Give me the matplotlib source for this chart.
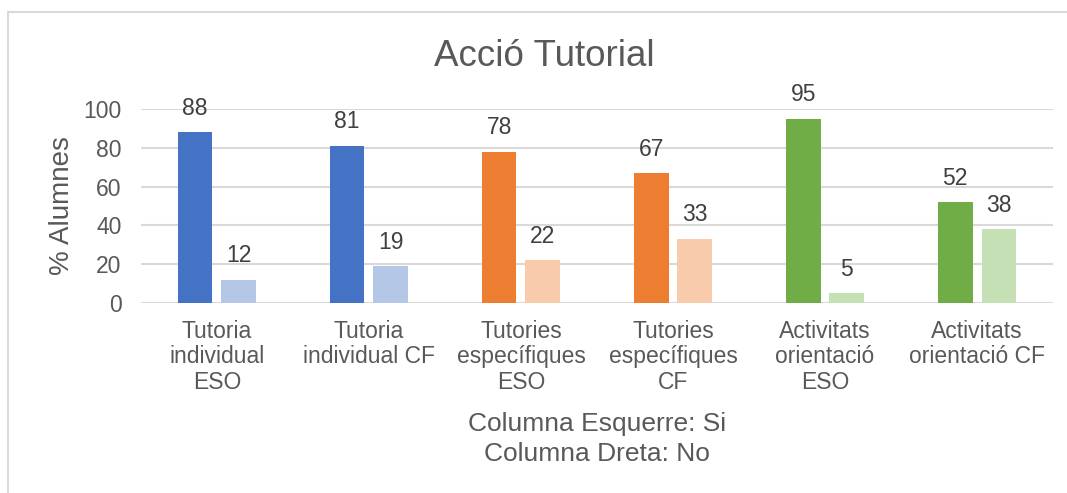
import matplotlib.pyplot as plt
import numpy as np
from matplotlib.patches import Rectangle

plt.rcParams['font.family'] = ['Liberation Sans', 'DejaVu Sans']

# Data
categories = ["Tutoria\nindividual\nESO", "Tutoria\nindividual CF",
              "Tutories\nespecífiques\nESO", "Tutories\nespecífiques\nCF",
              "Activitats\norientació\nESO", "Activitats\norientació CF"]
si_values = [88, 81, 78, 67, 95, 52]
no_values = [12, 19, 22, 33, 5, 38]
si_colors = ["#4472C4", "#4472C4", "#ED7D31", "#ED7D31", "#70AD47", "#70AD47"]
no_colors = ["#B4C7E7", "#B4C7E7", "#F8CBAD", "#F8CBAD", "#C5E0B4", "#C5E0B4"]
yticks = [0, 20, 40, 60, 80, 100]

text_gray = "#595959"
grid_gray = "#D9D9D9"

fig = plt.figure(figsize=(10.67, 4.93), dpi=100)
ax = fig.add_axes([0.1321, 0.3854, 0.9869 - 0.1321, 0.7789 - 0.3854])

x = np.arange(len(categories))
w = 0.227
off = 0.143
b1 = ax.bar(x - off, si_values, width=w, color=si_colors, zorder=3)
b2 = ax.bar(x + off, no_values, width=w, color=no_colors, zorder=3)
for bars in (b1, b2):
    ax.bar_label(bars, padding=9, fontsize=16.5, color="#404040")

ax.set_xlim(-0.5, len(categories) - 0.5)
ax.set_ylim(0, 100)
ax.set_yticks(yticks)
ax.set_xticks(x)
ax.set_xticklabels(categories, fontsize=16.5, color=text_gray, linespacing=1.15)
ax.tick_params(axis="y", labelsize=16.5, labelcolor=text_gray, length=0, pad=14)
ax.tick_params(axis="x", length=0, pad=12)
ax.yaxis.grid(True, color=grid_gray, linewidth=1.5, zorder=0)
for s in ax.spines.values():
    s.set_visible(False)

ax.set_ylabel("% Alumnes", fontsize=20, color=text_gray, labelpad=6)
ax.set_xlabel("Columna Esquerre: Si\nColumna Dreta: No", fontsize=19,
              color=text_gray, linespacing=1.3, labelpad=13)
fig.suptitle("Acció Tutorial", fontsize=26.5, color=text_gray, x=0.51, y=0.886, va="center")

# Chart border
fig.patches.append(Rectangle((8, -19), 1200, 500,
                             transform=None, fill=False, edgecolor=grid_gray,
                             linewidth=1.5))

fig.savefig("out.png", dpi=100)
